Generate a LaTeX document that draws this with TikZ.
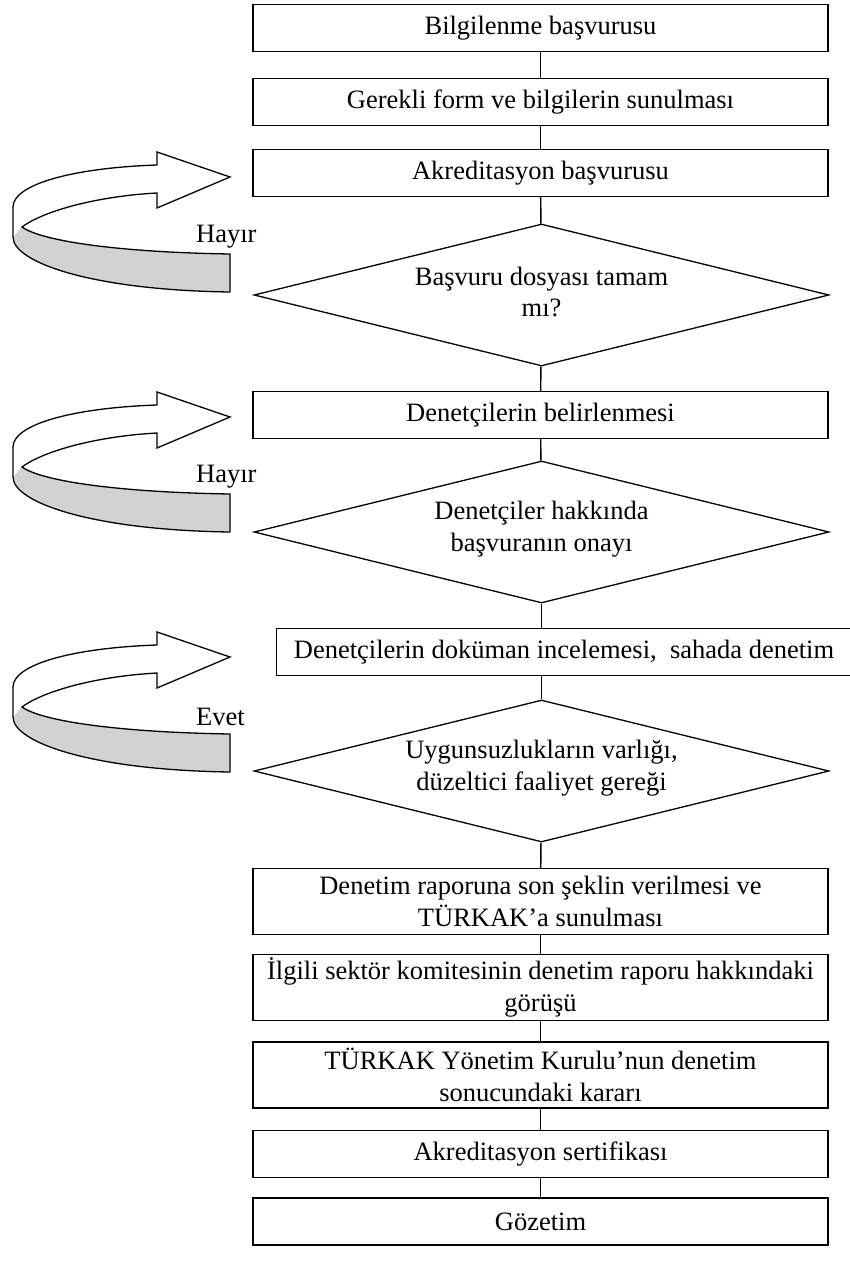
\documentclass[tikz,border=0pt]{standalone}
\usepackage{fontspec}
\setmainfont{Liberation Serif}
\usetikzlibrary{shapes.geometric}

\tikzset{
    box/.style={draw, rectangle, line width=1.3pt, minimum width=575pt, minimum height=47pt, inner sep=1pt, align=center},
    tallbox/.style={box, minimum height=66pt},
    decision/.style={draw, diamond, line width=1.3pt, minimum width=575pt, minimum height=142pt, inner sep=0pt},
    link/.style={-, line width=1.4pt},
    ribbon/.style={line width=1.3pt, line join=miter}
}

\begin{document}
\begin{tikzpicture}[x=1pt, y=-1pt, every node/.style={font=\fontsize{26.5}{31.5}\selectfont}]
        \useasboundingbox (0,0) rectangle (850,1277);

        \node[box] (b1) at (540.5, 28) {Bilgilenme başvurusu};
        \node[box] (b2) at (540.5, 102) {Gerekli form ve bilgilerin sunulması};
        \node[box] (b3) at (540.5, 173) {Akreditasyon başvurusu};
        \node[decision] (d1) at (541.5, 295) {};
        \node[align=center] (t1) at (541.5, 292) {Başvuru dosyası tamam\\mı?};
        \node[box] (b4) at (540.5, 415) {Denetçilerin belirlenmesi};
        \node[decision] (d2) at (541.5, 532) {};
        \node[align=center] (t2) at (541.5, 529) {Denetçiler hakkında\\başvuranın onayı};
        \node[box, minimum width=575pt] (b5) at (564, 652) {Denetçilerin doküman incelemesi,~ sahada denetim};
        \node[decision] (d3) at (541.5, 771) {};
        \node[align=center] (t3) at (541.5, 768) {Uygunsuzlukların varlığı,\\düzeltici faaliyet gereği};
        \node[tallbox] (b6) at (540.5, 901.5) {Denetim raporuna son şeklin verilmesi ve\\TÜRKAK’a sunulması};
        \node[tallbox] (b7) at (540.5, 987.5) {İlgili sektör komitesinin denetim raporu hakkındaki\\görüşü};
        \node[tallbox] (b8) at (540.5, 1075) {TÜRKAK Yönetim Kurulu’nun denetim\\sonucundaki kararı};
        \node[box] (b9) at (540.5, 1154) {Akreditasyon sertifikası};
        \node[box] (b10) at (540.5, 1221.5) {Gözetim};

        \draw[link] (b1) -- (b2);
        \draw[link] (b2) -- (b3);
        \draw[link] (b3) -- (d1);
        \draw[link] (d1) -- (b4);
        \draw[link] (b4) -- (d2);
        \draw[link] (d2.south) -- (d2.south |- b5.north);
        \draw[link] (d3.north |- b5.south) -- (d3.north);
        \draw[link] (d3) -- (b6);
        \draw[link] (b6) -- (b7);
        \draw[link] (b7) -- (b8);
        \draw[link] (b8) -- (b9);
        \draw[link] (b9) -- (b10);

            % curved return arrows on the left
        \foreach \dy/\answer in {0/Hayır, 240/Hayır, 480/Evet} {
            \begin{scope}[shift={(0,\dy)}]
                \fill[white] (230,177) -- (157,152) -- (157,165)
                    .. controls (70,168) and (13,185) .. (13,207) -- (13,237)
                    .. controls (13,262) and (90,290) .. (230,292) -- (230,254)
                    .. controls (110,252) and (40,240) .. (22,227)
                    .. controls (45,210) and (100,196) .. (157,193) -- (157,208) -- cycle;
                \fill[gray!35] (22,227) .. controls (40,240) and (110,252) .. (230,254) -- (230,292)
                    .. controls (90,290) and (13,262) .. (13,237) -- cycle;
                \draw[ribbon] (230,177) -- (157,152) -- (157,165)
                    .. controls (70,168) and (13,185) .. (13,207) -- (13,237)
                    .. controls (13,262) and (90,290) .. (230,292) -- (230,254)
                    .. controls (110,252) and (40,240) .. (22,227)
                    .. controls (45,210) and (100,196) .. (157,193) -- (157,208) -- cycle;
                \node[anchor=west, inner sep=0pt] (ans) at (196,237) {\answer};
            \end{scope}
        }
    \end{tikzpicture}
\end{document}
